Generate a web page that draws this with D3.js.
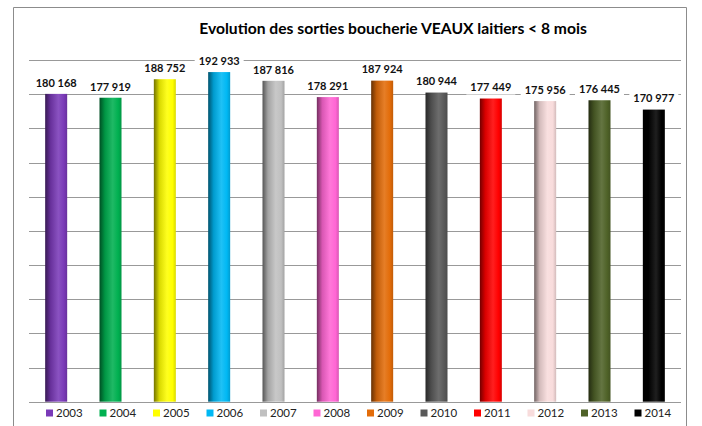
<!DOCTYPE html>
<html>
<head>
<meta charset="utf-8">
<script src="https://cdn.jsdelivr.net/npm/d3@7"></script>
<style>
	body { margin: 0; background: #fff; }
	svg { display: block; font-family: Lato, "Open Sans", sans-serif; }
</style>
</head>
<body>
<div id="chart"></div>
<script>

var years = ["2003", "2004", "2005", "2006", "2007", "2008", "2009", "2010", "2011", "2012", "2013", "2014"];
var sorties = [180168, 177919, 188752, 192933, 187816, 178291, 187924, 180944, 177449, 175956, 176445, 170977];
var colors = ["#7a3ab8", "#00b050", "#ffff00", "#00b8f4", "#c0c0c0", "#ff66d4", "#e36c09", "#595959", "#ff0000", "#f8dcdc", "#4f6228", "#000000"];
var yTicks = [0, 20000, 40000, 60000, 80000, 100000, 120000, 140000, 160000, 180000, 200000];

var title = "Evolution des sorties boucherie VEAUX laitiers < 8 mois";

var width = 702,
	height = 426;

var svg = d3.select("#chart")
	.append("svg")
	.attr("width", width)
	.attr("height", height);

// outer frame (bottom edge is off the picture)
svg.append("path")
	.attr("d", "M13.5," + height + "V7.5H686.5V" + height)
	.attr("fill", "none")
	.attr("stroke", "#8c8c8c");

var x = d3.scaleBand()
	.domain(years)
	.range([29, 681])
	.paddingInner(0.595)
	.paddingOuter(0.2975);

var y = d3.scaleLinear()
	.domain([0, 200000])
	.range([401.7, 60]);

// gridlines, no tick labels
var grid = svg.append("g")
	.attr("transform", "translate(681,0)")
	.call(d3.axisLeft(y).tickValues(yTicks).tickSize(652).tickFormat(""));
grid.select(".domain").remove();
grid.selectAll("line")
	.attr("stroke", "#999")
	.attr("shape-rendering", "crispEdges");

// cylinder-like shading for each bar
var defs = svg.append("defs");
colors.forEach(function(c, i) {
	var dark = d3.interpolateRgb(c, "#000")(0.55),
		mid = d3.interpolateRgb(c, "#000")(0.15),
		light = d3.interpolateRgb(c, "#fff")(0.12);
	var grad = defs.append("linearGradient")
		.attr("id", "grad" + i)
		.attr("x1", "0").attr("x2", "1").attr("y1", "0").attr("y2", "0");
	grad.append("stop").attr("offset", "0%").attr("stop-color", dark);
	grad.append("stop").attr("offset", "25%").attr("stop-color", mid);
	grad.append("stop").attr("offset", "60%").attr("stop-color", light);
	grad.append("stop").attr("offset", "85%").attr("stop-color", c);
	grad.append("stop").attr("offset", "100%").attr("stop-color", mid);
});

svg.append("g")
	.selectAll("rect")
	.data(sorties)
	.enter()
	.append("rect")
	.attr("x", function(d, i) { return x(years[i]); })
	.attr("y", function(d) { return y(d); })
	.attr("width", x.bandwidth())
	.attr("height", function(d) { return y(0) - y(d); })
	.attr("fill", function(d, i) { return "url(#grad" + i + ")"; });

// value labels with white boxes over the gridlines
var fmt = function(d) { return d3.format(",")(d).replace(",", " "); };

var labels = svg.append("g")
	.selectAll("g")
	.data(sorties)
	.enter()
	.append("g")
	.attr("transform", function(d, i) {
		return "translate(" + (x(years[i]) + x.bandwidth() / 2) + "," + (y(d) - 11) + ")";
	});

labels.append("text")
	.attr("text-anchor", "middle")
	.attr("dy", "0.35em")
	.attr("font-size", "11px")
	.attr("font-weight", "bold")
	.attr("fill", "#111")
	.text(fmt);

labels.insert("rect", "text")
	.each(function() {
		var w = this.parentNode.querySelector("text").getComputedTextLength() + 8;
		d3.select(this)
			.attr("x", -w / 2)
			.attr("y", -7)
			.attr("width", w)
			.attr("height", 14)
			.attr("fill", "#fff");
	});

// title, fitted to the reference width
var t = svg.append("text")
	.attr("x", 393)
	.attr("y", 34)
	.attr("text-anchor", "middle")
	.attr("font-size", "15px")
	.attr("font-weight", "bold")
	.attr("fill", "#000")
	.text(title);
var tw = t.node().getComputedTextLength();
t.attr("font-size", (15 * 388 / tw).toFixed(2) + "px");

// legend
var legend = svg.append("g")
	.selectAll("g")
	.data(years)
	.enter()
	.append("g")
	.attr("transform", function(d, i) { return "translate(" + (46 + i * 53.5) + ",413)"; });

legend.append("rect")
	.attr("x", 0)
	.attr("y", -3.5)
	.attr("width", 7)
	.attr("height", 7)
	.attr("fill", function(d, i) { return colors[i]; });

legend.append("text")
	.attr("x", 10)
	.attr("dy", "0.35em")
	.attr("font-size", "11.5px")
	.attr("fill", "#222")
	.text(function(d) { return d; });

</script>
</body>
</html>
